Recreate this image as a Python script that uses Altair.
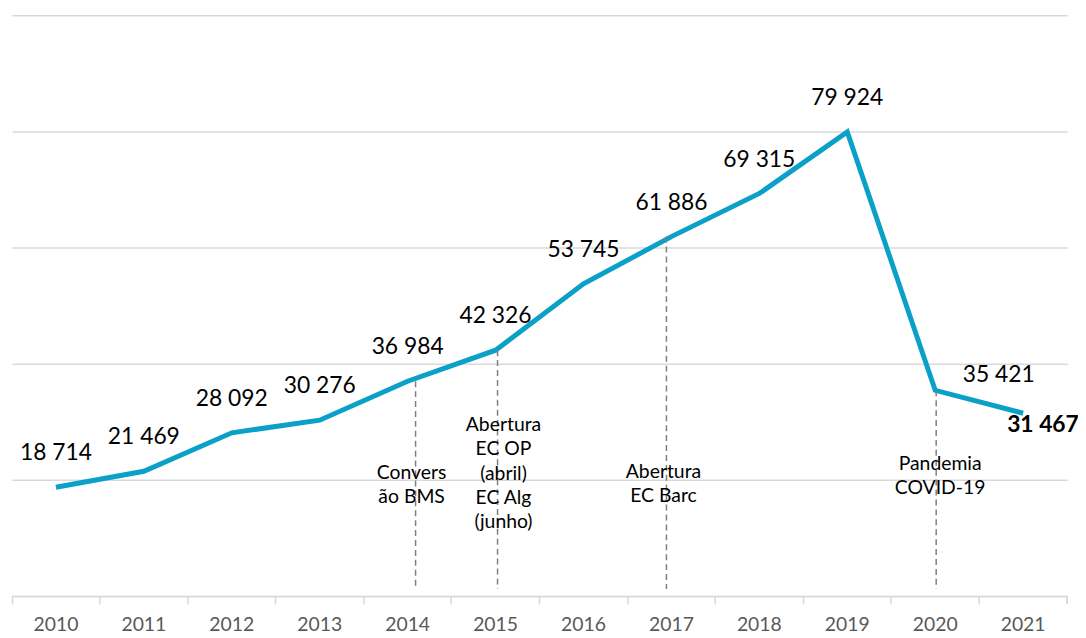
import altair as alt
import pandas as pd

years = ["2010", "2011", "2012", "2013", "2014", "2015", "2016", "2017", "2018", "2019", "2020", "2021"]
values = [18714, 21469, 28092, 30276, 36984, 42326, 53745, 61886, 69315, 79924, 35421, 31467]
labels = ["18 714", "21 469", "28 092", "30 276", "36 984", "42 326", "53 745", "61 886", "69 315", "79 924", "35 421", "31 467"]

event_years = ["2014", "2015", "2017", "2020"]
event_texts = ["Convers\não BMS", "Abertura\nEC OP\n(abril)\nEC Alg\n(junho)", "Abertura\nEC Barc", "Pandemia\nCOVID-19"]

df = pd.DataFrame({"year": years, "value": values, "label": labels})
ev = pd.DataFrame({"year": event_years, "text": event_texts})
ev = ev.merge(df[["year", "value"]], on="year")

W, H = 1063, 585
FONT = "Lato"

x = alt.X("year:N", sort=years, title=None,
          scale=alt.Scale(paddingInner=0, paddingOuter=0),
          axis=alt.Axis(bandPosition=0, labelAngle=0, labelFontSize=19.5, labelColor="#595959",
                        labelFont=FONT, tickColor="#d9d9d9", tickSize=8, tickWidth=1.5,
                        domainColor="#d9d9d9", domainWidth=1.5, labelPadding=12, grid=False))
y = alt.Y("value:Q", title=None, scale=alt.Scale(domain=[0, 100000]),
          axis=alt.Axis(values=[0, 20000, 40000, 60000, 80000, 100000], labels=False, ticks=False,
                        domain=False, grid=True, gridColor="#d9d9d9", gridWidth=1.5))

base = alt.Chart(df)

line = base.mark_line(color="#0aa0c8", strokeWidth=5).encode(x=x, y=y)

lab_main = base.transform_filter(
    alt.FieldOneOfPredicate(field="year", oneOf=years[:10])
).mark_text(fontSize=23, font=FONT, color="#000000", dy=-34, baseline="middle").encode(
    x=alt.X("year:N", sort=years), y="value:Q", text="label:N")

lab_2020 = base.transform_filter(alt.datum.year == "2020").mark_text(
    fontSize=23, font=FONT, color="#000000", dx=64, dy=-15, baseline="middle").encode(
    x=alt.X("year:N", sort=years), y="value:Q", text="label:N")

lab_2021 = base.transform_filter(alt.datum.year == "2021").mark_text(
    fontSize=23, font=FONT, fontWeight="bold", color="#000000", dx=20, dy=12, baseline="middle").encode(
    x=alt.X("year:N", sort=years), y="value:Q", text="label:N")

half = W / len(years) / 2
ypix = {"2014": 461, "2015": 413, "2017": 460, "2020": 452}
dxs = {"2014": 4, "2015": 8, "2017": -8, "2020": 5}
rule_off = {"2014": 8, "2015": 2, "2017": -5, "2020": 1}
layers = []
for yr in event_years:
    layers.append(
        alt.Chart(ev).transform_filter(alt.datum.year == yr).mark_rule(
            color="#7f7f7f", strokeDash=[6, 4], strokeWidth=1.5).encode(
            x=alt.X("year:N", sort=years), xOffset=alt.value(half + rule_off[yr]),
            y="value:Q", y2=alt.datum(1200)))
for yr in event_years:
    layers.append(
        alt.Chart(ev).transform_filter(alt.datum.year == yr).mark_text(
            fontSize=19.5, font=FONT, color="#000000", lineBreak="\n", lineHeight=24.5,
            baseline="middle", dx=dxs[yr]).encode(
            x=alt.X("year:N", sort=years), y=alt.value(ypix[yr]), text="text:N"))

end_tick = alt.Chart(df).mark_rule(color="#d9d9d9", strokeWidth=1.5).encode(
    x=alt.value(W), y=alt.value(H), y2=alt.value(H + 8))

chart = alt.layer(line, *layers, lab_main, lab_2020, lab_2021, end_tick).properties(
    width=W, height=H,
    autosize=alt.AutoSizeParams(type="none"),
    padding={"left": 4, "top": 5, "right": 11, "bottom": 38},
).configure(background="white").configure_view(stroke=None)

chart.save("out.html", embed_options={"renderer": "svg", "actions": False})
